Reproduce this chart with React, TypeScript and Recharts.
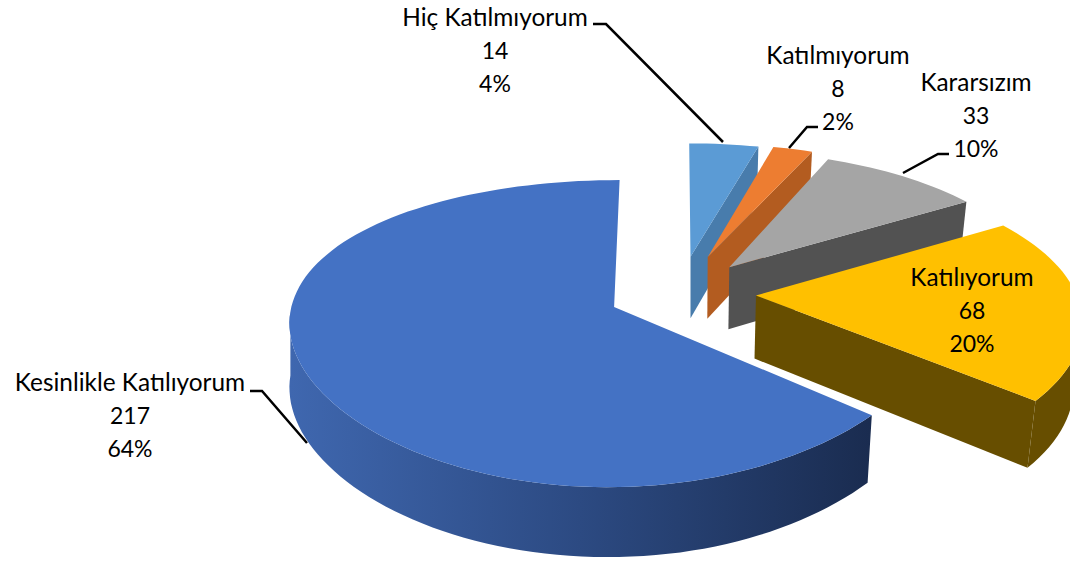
import React from "react";
import { PieChart, Pie } from "recharts";

const categories = [
  "Hiç Katılmıyorum",
  "Katılmıyorum",
  "Kararsızım",
  "Katılıyorum",
  "Kesinlikle Katılıyorum",
];
const counts = [14, 8, 33, 68, 217];

const topColors = ["#5b9bd5", "#ed7d31", "#a5a5a5", "#ffc000", "#4472c4"];
const sideColors = ["#487cac", "#b35c20", "#525252", "#674e00", "url(#blueSide)"];

const tableData = categories.map((name, i) => ({
  name,
  value: counts[i],
  fill: topColors[i],
}));

// layout of the labels, [centre x, y of first line]
const labelSpots = [
  [495, 18],
  [838, 56],
  [976, 83],
  [972, 278],
  [130, 383],
];
const leaders = [
  "593,24 606,24 723,142",
  "818,127 807,127 789,148",
  "949,154 938,154 903,173",
  "",
  "250,391 262,391 307,443",
];

const CX = 680;
const CY = 293;
const RADIUS = 320;
const SQUASH = 0.4503;
const PERSP_Y = 0.1716;
const DEPTH = 63;
const VANISH_X = 690;
// per slice: how far it is pulled out, and how much the x axis widens to the front
const explode = [85, 88, 78, 76, 72];
const perspX = [0.15, 0.15, 0.18, 0.15, 0.09];

function project(X: number, Y: number, down: boolean, px: number) {
  const sx = 1 / (1 - (px * Y) / RADIUS);
  const sy = 1 / (1 - (PERSP_Y * Y) / RADIUS);
  let x = CX + X * sx;
  let y = CY + SQUASH * Y * sy;
  if (down) {
    y += DEPTH * Math.sqrt(sy);
    if (x > VANISH_X) x = VANISH_X + (x - VANISH_X) * 0.977;
  }
  return x.toFixed(1) + "," + y.toFixed(1);
}

// recharts angle (counter clockwise from 3 o'clock) to a point on the flat disc
function disc(angle: number, r: number) {
  const a = (angle * Math.PI) / 180;
  return [r * Math.cos(a), -r * Math.sin(a)];
}

function Slice3D(props: any) {
  const { startAngle, endAngle, outerRadius, name } = props;
  const i = categories.indexOf(name);
  const px = perspX[i];
  const [ox, oy] = disc((startAngle + endAngle) / 2, explode[i]);
  const arc: number[][] = [];
  const steps = Math.max(4, Math.ceil(Math.abs(endAngle - startAngle) / 2));
  for (let s = 0; s <= steps; s++) {
    const [u, v] = disc(startAngle + ((endAngle - startAngle) * s) / steps, outerRadius);
    arc.push([ox + u, oy + v]);
  }
  const last = arc[arc.length - 1];
  // only the front half of the rim can be seen
  const front = arc.filter((p) => p[1] - oy >= 0);
  const top = arc.map((p) => project(p[0], p[1], false, px));
  const rimTop = front.map((p) => project(p[0], p[1], false, px));
  const rimLow = front.map((p) => project(p[0], p[1], true, px));
  const apexTop = project(ox, oy, false, px);
  const apexLow = project(ox, oy, true, px);
  const side = sideColors[i];
  // the big slice ends on its back edge, so that cut face stays hidden
  const showCut = i < categories.length - 1;
  return (
    <g>
      {showCut && (
        <polygon
          points={[apexTop, project(last[0], last[1], false, px), project(last[0], last[1], true, px), apexLow].join(" ")}
          fill={side}
        />
      )}
      {front.length > 1 && <polygon points={[...rimTop, ...rimLow.reverse()].join(" ")} fill={side} />}
      <polygon points={[apexTop, ...top].join(" ")} fill={topColors[i]} />
    </g>
  );
}

function SliceLabel(props: any) {
  const { index, name, value, percent } = props;
  const [x, y] = labelSpots[index];
  const lines = [name, String(value), Math.round(percent * 100) + "%"];
  return (
    <text textAnchor="middle" fontFamily="Lato" fill="#000000">
      {lines.map((line, k) => (
        <tspan key={k} x={x} y={y + 8 + k * 33} fontSize={k === 0 ? 24.4 : 23}>
          {line}
        </tspan>
      ))}
    </text>
  );
}

function LeaderLine(props: any) {
  const pts = leaders[props.index];
  if (!pts) return <g />;
  return <polyline points={pts} fill="none" stroke="#000000" strokeWidth={2.5} />;
}

export default function App() {
  return (
    <div style={{ position: "absolute", left: 0, top: 0, width: 1070, height: 563 }}>
      <PieChart width={1070} height={563} margin={{ top: 0, right: 0, bottom: 0, left: 0 }}>
        <defs>
          <linearGradient id="blueSide" gradientUnits="userSpaceOnUse" x1="290" y1="0" x2="870" y2="0">
            <stop offset="0%" stopColor="#3f67af" />
            <stop offset="50%" stopColor="#2c4a82" />
            <stop offset="100%" stopColor="#1a2c50" />
          </linearGradient>
        </defs>
        <Pie
          data={tableData}
          dataKey="value"
          nameKey="name"
          cx={CX}
          cy={CY}
          innerRadius={0}
          outerRadius={RADIUS}
          startAngle={90}
          endAngle={-270}
          stroke="none"
          isAnimationActive={false}
          shape={Slice3D}
          label={SliceLabel}
          labelLine={LeaderLine}
        />
      </PieChart>
    </div>
  );
}
